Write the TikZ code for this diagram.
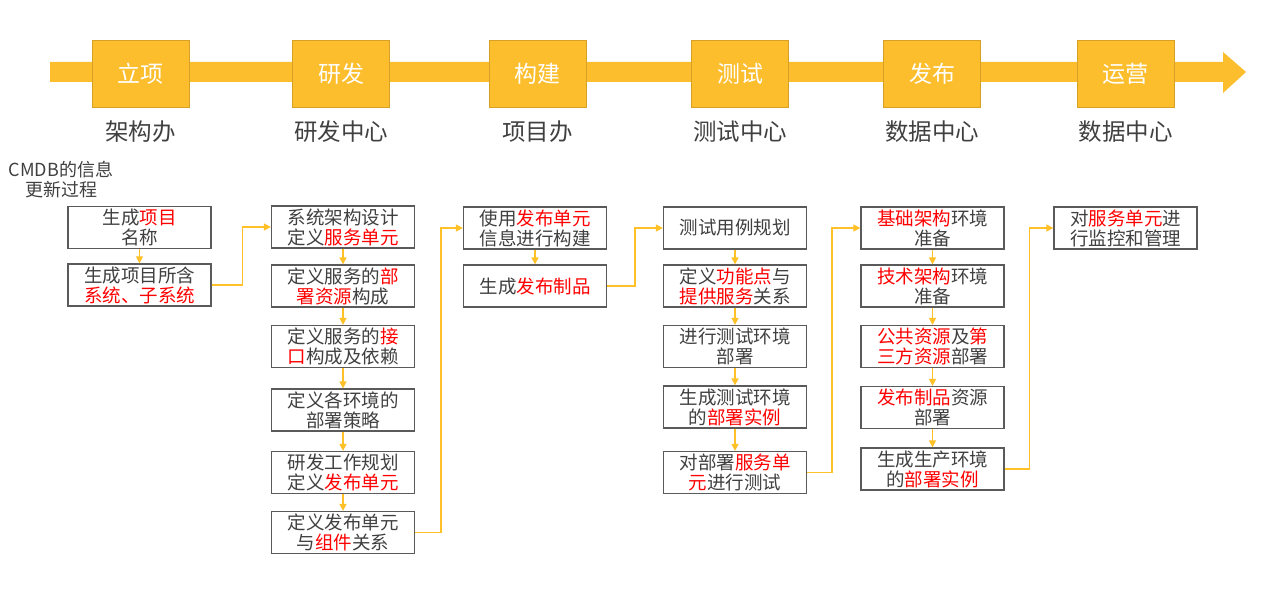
\documentclass[tikz,border=0pt]{standalone}
\usepackage{fontspec}
\setmainfont{Noto Sans CJK SC}
\usetikzlibrary{arrows.meta}
\definecolor{gold}{RGB}{252,190,45}
\definecolor{goldline}{RGB}{255,192,40}
\definecolor{txt}{RGB}{64,64,64}
\definecolor{boxline}{RGB}{90,90,90}
\newcommand{\rd}[1]{\textcolor{red}{#1}}
\tikzset{
  stage/.style={fill=gold, draw=gold!85!black, line width=0.6pt, minimum width=97pt, minimum height=67pt, inner sep=0pt, text=white, font=\fontsize{23}{26}\selectfont},
  dept/.style={text=txt, font=\fontsize{23.5}{26}\selectfont, inner sep=0pt},
  stepbox/.style={draw=boxline, fill=white, line width=1.3pt, minimum width=143pt, minimum height=42pt, inner sep=0pt, align=center, text=txt, font=\fontsize{18.5}{20}\selectfont},
  conn/.style={draw=goldline, line width=1.5pt, -{Triangle[length=7pt,width=7pt]}},
}
\begin{document}
\begin{tikzpicture}[x=1pt,y=-1pt]
\useasboundingbox (0,0) rectangle (1272,610);
% banner
\fill[gold] (50,62) -- (1223,62) -- (1223,52) -- (1246,72) -- (1223,93) -- (1223,82) -- (50,82) -- cycle;
\node[stage] (s1) at (140.5,73.5) {立项};
\node[stage] (s2) at (341,73.5) {研发};
\node[stage] (s3) at (537.5,73.5) {构建};
\node[stage] (s4) at (740,73.5) {测试};
\node[stage] (s5) at (932,73.5) {发布};
\node[stage] (s6) at (1125.5,73.5) {运营};
\node[dept] (d1) at (140.5,132) {架构办};
\node[dept] (d2) at (341,132) {研发中心};
\node[dept] (d3) at (537.5,132) {项目办};
\node[dept] (d4) at (740,132) {测试中心};
\node[dept] (d5) at (932,132) {数据中心};
\node[dept] (d6) at (1125.5,132) {数据中心};
\node[text=txt, align=center, font=\fontsize{18}{20}\selectfont, inner sep=0pt] (title) at (61,180) {CMDB的信息\\更新过程};
% column 1
\node[stepbox] (a1) at (139.5,227.5) {生成\rd{项目}\\名称};
\node[stepbox] (a2) at (139.5,285) {生成项目所含\\\rd{系统、子系统}};
% column 2
\node[stepbox] (b1) at (343,227) {系统架构设计\\定义\rd{服务单元}};
\node[stepbox] (b2) at (343,286) {定义服务的\rd{部}\\\rd{署资源}构成};
\node[stepbox] (b3) at (343,346.5) {定义服务的\rd{接}\\\rd{口}构成及依赖};
\node[stepbox] (b4) at (343,410) {定义各环境的\\部署策略};
\node[stepbox] (b5) at (343,472.5) {研发工作规划\\定义\rd{发布单元}};
\node[stepbox] (b6) at (343,532.5) {定义发布单元\\与\rd{组件}关系};
% column 3
\node[stepbox] (c1) at (535,228) {使用\rd{发布单元}\\信息进行构建};
\node[stepbox] (c2) at (535,286) {生成\rd{发布制品}};
% column 4
\node[stepbox] (e1) at (735,228) {测试用例规划};
\node[stepbox] (e2) at (735,286) {定义\rd{功能点}与\\\rd{提供服务}关系};
\node[stepbox] (e3) at (735,346.5) {进行测试环境\\部署};
\node[stepbox] (e4) at (735,407) {生成测试环境\\的\rd{部署实例}};
\node[stepbox] (e5) at (735,472.5) {对部署\rd{服务单}\\\rd{元}进行测试};
% column 5
\node[stepbox] (f1) at (932.5,228) {\rd{基础架构}环境\\准备};
\node[stepbox] (f2) at (932.5,286) {\rd{技术架构}环境\\准备};
\node[stepbox] (f3) at (932.5,346.5) {\rd{公共资源}及\rd{第}\\\rd{三方资源}部署};
\node[stepbox] (f4) at (932.5,407.5) {\rd{发布制品}资源\\部署};
\node[stepbox] (f5) at (932.5,469) {生成生产环境\\的\rd{部署实例}};
% column 6
\node[stepbox] (g1) at (1125.5,228) {对\rd{服务单元}进\\行监控和管理};
% vertical arrows
\draw[conn] (a1) -- (a2);
\draw[conn] (b1) -- (b2);
\draw[conn] (b2) -- (b3);
\draw[conn] (b3) -- (b4);
\draw[conn] (b4) -- (b5);
\draw[conn] (b5) -- (b6);
\draw[conn] (c1) -- (c2);
\draw[conn] (e1) -- (e2);
\draw[conn] (e2) -- (e3);
\draw[conn] (e3) -- (e4);
\draw[conn] (e4) -- (e5);
\draw[conn] (f1) -- (f2);
\draw[conn] (f2) -- (f3);
\draw[conn] (f3) -- (f4);
\draw[conn] (f4) -- (f5);
% column links
\draw[conn] (a2.east) -- ++(31,0) |- (b1.west);
\draw[conn] (b6.east) -- ++(26,0) |- (c1.west);
\draw[conn] (c2.east) -- ++(28,0) |- (e1.west);
\draw[conn] (e5.east) -- ++(25,0) |- (f1.west);
\draw[conn] (f5.east) -- ++(25,0) |- (g1.west);
\end{tikzpicture}
\end{document}
